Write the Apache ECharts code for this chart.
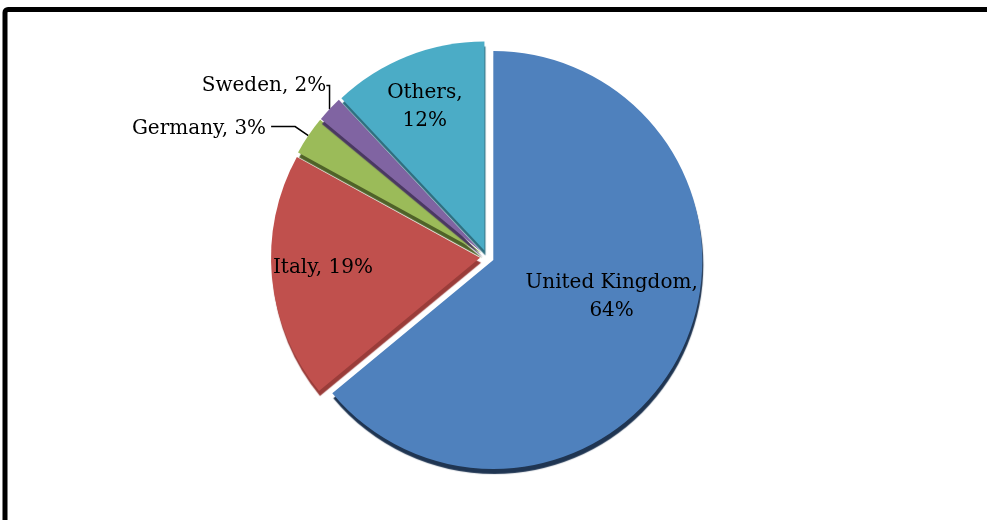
<!DOCTYPE html>
<html>
<head>
<meta charset="utf-8">
<script src="https://cdn.jsdelivr.net/npm/echarts@6/dist/echarts.min.js"></script>
<style>
  html, body { margin: 0; padding: 0; background: #fff; }
  #chart { width: 987px; height: 520px; }
</style>
</head>
<body>
<div id="chart"></div>
<script>
// ---- data ----
const categories = ['United Kingdom', 'Italy', 'Germany', 'Sweden', 'Others'];
const shares = [64, 19, 3, 2, 12];

// ---- styling ----
const colors = ['#4F81BD', '#C0504D', '#9BBB59', '#8064A2', '#4BACC6'];
const sideColors = ['#1F3552', '#9A3C39', '#4F6228', '#4A3862', '#2F6F80'];
const wrapped = [true, false, false, false, true];
const outside = [false, false, true, true, false];
const labelShift = [[21, -9], [-50, 0], [0, 2], [16, -14], [-20, -44]];
const lineLen = [[0, 0], [0, 0], [16, 24], [14, 4], [0, 0]];
const relocate = [false, false, false, true, false];
const explode = 7;
const baseCenter = [487, 257];
const pieRadius = 209;

const total = shares.reduce((a, b) => a + b, 0);
const chart = echarts.init(document.getElementById('chart'), null, { renderer: 'canvas' });

const clear = 'rgba(0,0,0,0)';
let before = 0;
const series = categories.map((cat, k) => {
  const midDeg = 90 - 360 * (before + shares[k] / 2) / total;
  before += shares[k];
  const rad = midDeg * Math.PI / 180;
  const center = [baseCenter[0] + explode * Math.cos(rad), baseCenter[1] - explode * Math.sin(rad)];
  const data = categories.map((name, i) => {
    const on = i === k;
    return {
      name: name,
      value: shares[i],
      itemStyle: on ? {
        color: colors[i],
        shadowColor: sideColors[i],
        shadowBlur: 1,
        shadowOffsetX: 1,
        shadowOffsetY: 5
      } : { color: clear, shadowColor: clear, borderWidth: 0 },
      label: { show: on, position: outside[i] ? 'outside' : 'inside' },
      labelLine: (on && outside[i])
        ? { show: true, length: lineLen[i][0], length2: lineLen[i][1] }
        : { show: false }
    };
  });
  return {
    type: 'pie',
    z: 2,
    center: center,
    radius: pieRadius,
    startAngle: 90,
    clockwise: true,
    avoidLabelOverlap: false,
    silent: true,
    data: data,
    label: {
      color: '#000',
      fontFamily: 'DejaVu Serif',
      fontSize: 20,
      lineHeight: 28,
      align: 'center',
      formatter: (p) => p.name + (wrapped[p.dataIndex] ? ',\n' : ', ') + p.value + '%'
    },
    labelLine: {
      lineStyle: { color: '#000', width: 1.5 },
      smooth: false
    },
    labelLayout: (p) => {
      const i = p.dataIndex;
      const s = labelShift[i];
      if (relocate[i]) {
        const r = p.labelRect;
        return {
          x: r.x + r.width / 2 + s[0],
          y: r.y + r.height / 2 + s[1],
          align: 'center',
          verticalAlign: 'middle'
        };
      }
      return { dx: s[0], dy: s[1] };
    },
    emphasis: { disabled: true }
  };
});

chart.setOption({
  animation: false,
  backgroundColor: '#ffffff',
  graphic: [{
    type: 'rect',
    shape: { x: 5, y: 9.5, width: 1100, height: 700, r: 3 },
    style: { fill: null, stroke: '#000', lineWidth: 5 },
    silent: true,
    z: 10
  }],
  series: series
});
</script>
</body>
</html>
